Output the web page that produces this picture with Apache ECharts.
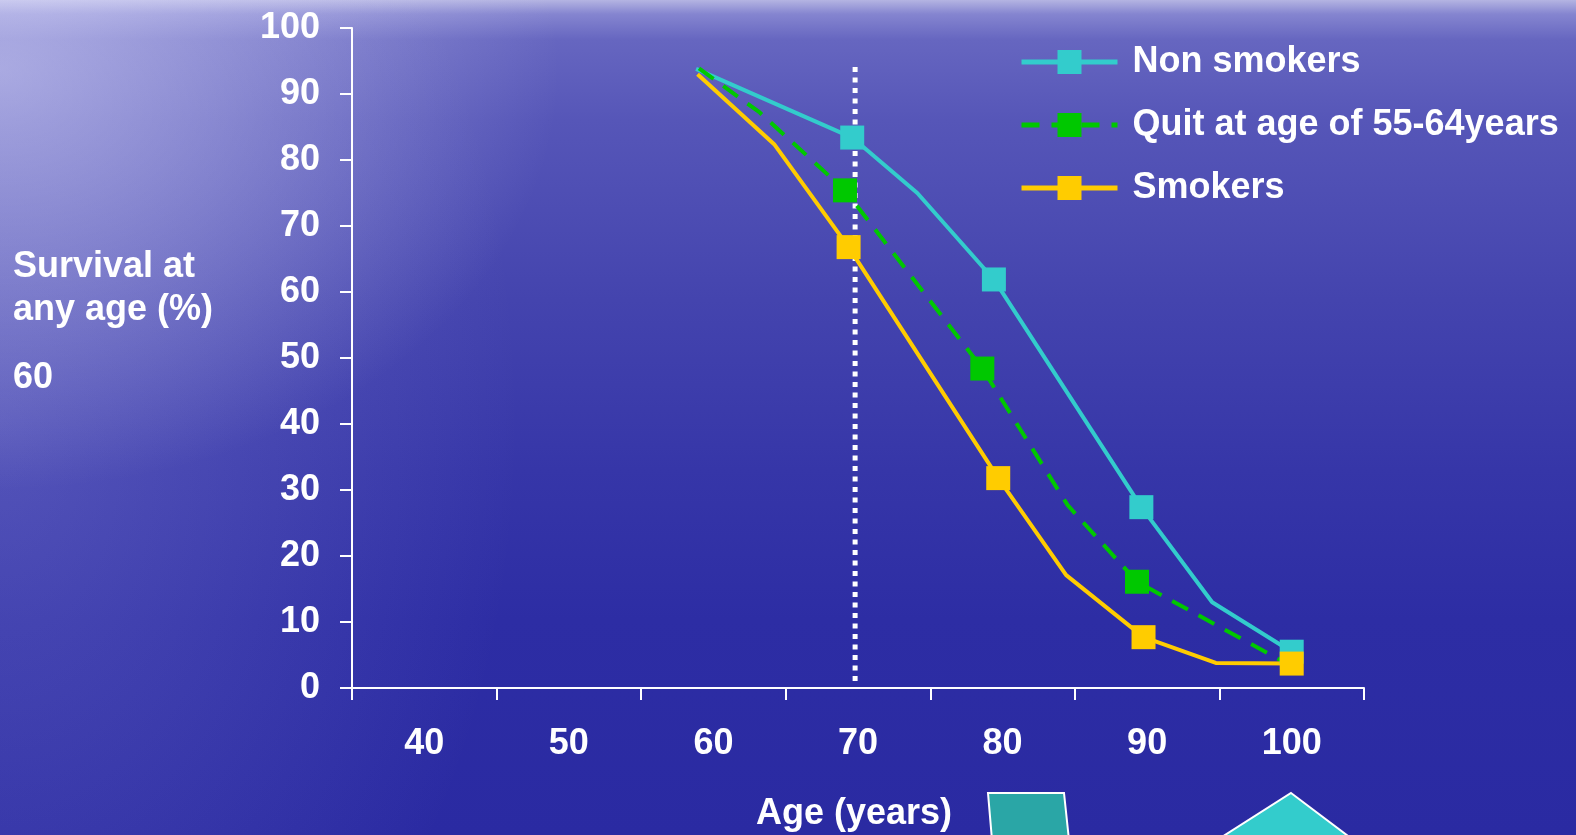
<!DOCTYPE html>
<html>
<head>
<meta charset="utf-8">
<script src="https://cdn.jsdelivr.net/npm/echarts@6/dist/echarts.min.js"></script>
<style>
  html, body { margin: 0; padding: 0; width: 1576px; height: 835px; overflow: hidden; }
  body {
    background:
      radial-gradient(ellipse 560px 420px at 0px 70px, rgba(232,232,255,0.50), rgba(232,232,255,0) 100%),
      radial-gradient(ellipse 520px 760px at 0px 420px, rgba(190,190,245,0.22), rgba(190,190,245,0) 100%),
      linear-gradient(to bottom, #b4b4e2 0px, #8585d0 14px, #6666c0 40px, #5656b8 120px, #4444ae 300px, #3636a8 470px, #2d2da4 620px, #2a2aa2 835px);
  }
  #chart { position: absolute; left: 0; top: 0; width: 1576px; height: 835px; }
</style>
</head>
<body>
<div id="chart"></div>
<script>
// Age categories shown under the axis
const ageLabels = ['40', '50', '60', '70', '80', '90', '100'];

// Non smokers: age (years), survival (%), whether a square marker is drawn
const nonSmokersAge = [58.8, 69.6, 74.1, 79.4, 89.6, 94.5, 100];
const nonSmokersPct = [93.8, 83.4, 75.0, 61.9, 27.4, 13.0, 5.5];
const nonSmokersMark = [false, true, false, true, true, false, true];

// Quit at age of 55-64 years
const quitAge = [59.0, 63.2, 69.1, 78.6, 84.5, 89.3, 100];
const quitPct = [93.9, 87.2, 75.4, 48.4, 27.7, 16.1, 3.3];
const quitMark = [false, false, true, true, false, true, false];

// Smokers
const smokersAge = [58.9, 64.2, 69.35, 79.7, 84.4, 89.75, 94.75, 100];
const smokersPct = [93.0, 82.4, 66.8, 31.8, 17.1, 7.7, 3.8, 3.7];
const smokersMark = [false, false, true, true, false, true, false, true];

// Dotted reference line at age 70
const guideAge = [69.8, 69.8];
const guidePct = [94.1, 0.9];

const FONT = '"Liberation Sans", Arial, sans-serif';

function points(ages, pcts, marks) {
  return ages.map((a, i) => ({
    value: [a, pcts[i]],
    symbol: marks && marks[i] ? 'rect' : 'none'
  }));
}

const chart = echarts.init(document.getElementById('chart'), null, { renderer: 'canvas' });

chart.setOption({
  backgroundColor: 'transparent',
  animation: false,
  grid: { left: 352, right: 212, top: 28, bottom: 147, containLabel: false },
  legend: {
    orient: 'vertical',
    left: 1014,
    top: 37,
    itemWidth: 96,
    itemHeight: 30,
    itemGap: 23,
    data: ['Non smokers', 'Quit at age of 55-64years', 'Smokers'],
    lineStyle: { width: 5 },
    textStyle: {
      color: '#ffffff', fontSize: 36, fontWeight: 'bold', fontFamily: FONT,
      lineHeight: 40, padding: [0, 0, 0, 10]
    }
  },
  xAxis: [
    {
      type: 'category',
      data: ageLabels,
      boundaryGap: true,
      axisLine: { show: true, lineStyle: { color: '#ffffff', width: 2 } },
      axisTick: { show: true, length: 12, alignWithLabel: false, lineStyle: { color: '#ffffff', width: 2 } },
      axisLabel: { color: '#ffffff', fontSize: 36, fontWeight: 'bold', fontFamily: FONT, margin: 38 },
      splitLine: { show: false }
    },
    {
      type: 'value',
      min: 35,
      max: 105,
      show: false
    }
  ],
  yAxis: {
    type: 'value',
    min: 0,
    max: 100,
    interval: 10,
    axisLine: { show: true, lineStyle: { color: '#ffffff', width: 2 } },
    axisTick: { show: true, length: 12, lineStyle: { color: '#ffffff', width: 2 } },
    axisLabel: { color: '#ffffff', fontSize: 36, fontWeight: 'bold', fontFamily: FONT, margin: 32 },
    splitLine: { show: false }
  },
  series: [
    {
      name: 'guide',
      type: 'line',
      xAxisIndex: 1,
      z: 1,
      symbol: 'none',
      silent: true,
      data: guideAge.map((a, i) => [a, guidePct[i]]),
      lineStyle: { color: '#ffffff', width: 5, type: [5, 5.5], cap: 'butt' }
    },
    {
      name: 'Non smokers',
      type: 'line',
      xAxisIndex: 1,
      z: 3,
      symbol: 'rect',
      symbolSize: 24,
      data: points(nonSmokersAge, nonSmokersPct, nonSmokersMark),
      itemStyle: { color: '#33cccc' },
      lineStyle: { color: '#33cccc', width: 4 }
    },
    {
      name: 'Quit at age of 55-64years',
      type: 'line',
      xAxisIndex: 1,
      z: 3,
      symbol: 'rect',
      symbolSize: 24,
      data: points(quitAge, quitPct, quitMark),
      itemStyle: { color: '#00c800' },
      lineStyle: { color: '#00c800', width: 4, type: [18, 12] }
    },
    {
      name: 'Smokers',
      type: 'line',
      xAxisIndex: 1,
      z: 3,
      symbol: 'rect',
      symbolSize: 24,
      data: points(smokersAge, smokersPct, smokersMark),
      itemStyle: { color: '#ffcc00' },
      lineStyle: { color: '#ffcc00', width: 4 }
    }
  ],
  graphic: [
    {
      type: 'text', left: 13, top: 249,
      style: { text: 'Survival at', fill: '#ffffff', font: 'bold 36px ' + FONT }
    },
    {
      type: 'text', left: 13, top: 292,
      style: { text: 'any age (%)', fill: '#ffffff', font: 'bold 36px ' + FONT }
    },
    {
      type: 'text', left: 13, top: 360,
      style: { text: '60', fill: '#ffffff', font: 'bold 36px ' + FONT }
    },
    {
      type: 'text', left: 756, top: 796,
      style: { text: 'Age (years)', fill: '#ffffff', font: 'bold 36px ' + FONT }
    },
    {
      type: 'polygon',
      shape: { points: [[988, 793], [1064, 793], [1069, 840], [992, 840]] },
      style: { fill: '#2aa6a6', stroke: '#ffffff', lineWidth: 2 }
    },
    {
      type: 'polygon',
      shape: { points: [[1291, 793], [1356, 842], [1214, 842]] },
      style: { fill: '#33cccc', stroke: '#ffffff', lineWidth: 2 }
    }
  ]
});
</script>
</body>
</html>
